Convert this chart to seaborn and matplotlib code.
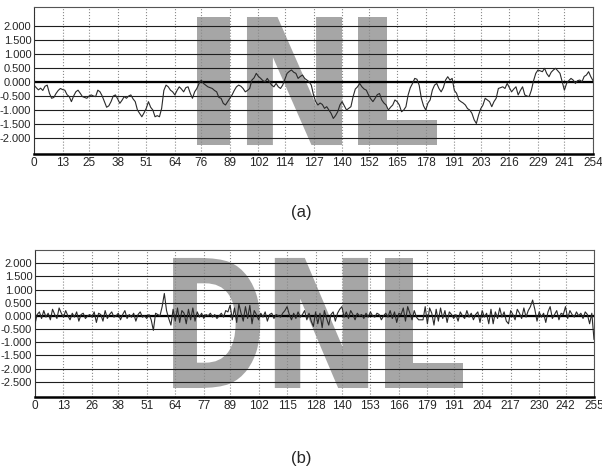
import numpy as np
import pandas as pd
import seaborn as sns
import matplotlib.pyplot as plt
from matplotlib.textpath import TextPath
from matplotlib.patches import PathPatch
from matplotlib.font_manager import FontProperties
from matplotlib.transforms import Affine2D

# INL, codes 0..254
inl = [
    -0.11, -0.20, -0.28, -0.22, -0.30, -0.15, -0.11, -0.40, -0.58, -0.55,
    -0.41, -0.30, -0.23, -0.27, -0.29, -0.45, -0.52, -0.70, -0.50, -0.35,
    -0.29, -0.40, -0.52, -0.55, -0.58, -0.50, -0.46, -0.50, -0.52, -0.29,
    -0.35, -0.50, -0.70, -0.90, -0.85, -0.70, -0.50, -0.46, -0.60, -0.76,
    -0.65, -0.52, -0.58, -0.50, -0.46, -0.60, -0.70, -1.00, -1.12, -1.24,
    -1.10, -0.94, -0.70, -0.90, -1.00, -1.24, -1.20, -1.24, -0.94, -0.30,
    -0.11, -0.17, -0.29, -0.35, -0.46, -0.30, -0.17, -0.25, -0.35, -0.20,
    -0.17, -0.40, -0.58, -0.35, -0.23, -0.05, 0.07, -0.05, -0.11, -0.17,
    -0.20, -0.23, -0.30, -0.35, -0.55, -0.58, -0.76, -0.82, -0.70, -0.58,
    -0.46, -0.30, -0.17, -0.11, -0.15, -0.23, -0.35, -0.30, -0.23, 0.07,
    0.15, 0.31, 0.20, 0.13, 0.05, 0.01, 0.13, 0.01, -0.11, -0.17,
    -0.05, -0.17, -0.23, -0.11, 0.10, 0.31, 0.38, 0.43, 0.35, 0.31,
    0.13, 0.20, 0.25, 0.13, 0.07, 0.01, -0.11, -0.46, -0.70, -0.82,
    -0.75, -0.80, -0.94, -0.88, -1.00, -1.12, -1.30, -1.20, -1.06, -0.82,
    -0.70, -0.85, -1.00, -0.94, -0.88, -0.52, -0.25, -0.17, -0.05, -0.17,
    -0.25, -0.29, -0.46, -0.60, -0.70, -0.58, -0.45, -0.41, -0.64, -0.75,
    -0.82, -1.00, -0.90, -0.82, -0.64, -0.70, -0.82, -1.06, -1.00, -0.88,
    -0.46, -0.20, -0.05, 0.13, 0.10, -0.11, -0.58, -0.85, -1.00, -0.75,
    -0.64, -0.29, -0.11, -0.05, -0.23, -0.35, -0.20, 0.07, 0.19, 0.07,
    0.13, -0.30, -0.40, -0.64, -0.70, -0.75, -0.82, -0.95, -1.00, -1.12,
    -1.35, -1.48, -1.18, -0.95, -0.82, -0.58, -0.64, -0.70, -0.88, -0.70,
    -0.58, -0.23, -0.20, -0.17, -0.23, -0.05, -0.20, -0.35, -0.25, -0.17,
    -0.46, -0.30, -0.17, -0.46, -0.50, -0.52, -0.29, 0.05, 0.31, 0.43,
    0.40, 0.37, 0.49, 0.30, 0.19, 0.35, 0.43, 0.49, 0.40, 0.31,
    0.01, -0.29, -0.05, 0.05, 0.13, 0.07, -0.05, 0.05, 0.07, 0.01,
    0.20, 0.25, 0.37, 0.19, 0.05,
]

# DNL, codes 0..255
dnl = [
    -0.30, 0.05, 0.15, -0.10, 0.20, -0.05, 0.10, -0.15, 0.25, 0.05, -0.10, 0.30, 0.10, -0.05, 0.20, 0.00,
    -0.15, 0.10, -0.05, 0.15, -0.20, 0.05, 0.10, -0.10, 0.00, 0.05, -0.05, 0.15, -0.25, 0.10, 0.05, -0.20,
    0.20, -0.10, 0.05, 0.15, -0.05, 0.00, 0.10, -0.15, 0.05, 0.20, -0.10, 0.05, -0.05, 0.10, -0.20, 0.05,
    0.15, -0.05, 0.00, -0.10, 0.05, -0.15, -0.55, 0.10, 0.05, 0.00, 0.35, 0.85, 0.20, -0.10, -0.35, 0.25,
    -0.20, 0.30, -0.25, 0.20, 0.10, -0.30, 0.25, -0.15, 0.30, -0.20, 0.15, -0.05, 0.10, -0.10, 0.05, 0.00,
    0.10, -0.05, 0.05, -0.10, 0.00, 0.10, -0.05, 0.20, 0.15, 0.40, -0.15, 0.30, -0.25, 0.45, 0.10, -0.20,
    0.35, -0.10, 0.40, -0.30, 0.20, 0.05, -0.15, 0.10, -0.05, 0.15, -0.20, 0.05, 0.10, -0.10, 0.05, 0.00,
    -0.05, 0.10, 0.20, 0.35, 0.05, -0.15, 0.10, -0.10, 0.15, -0.05, 0.05, 0.20, -0.15, 0.10, -0.20, -0.40,
    0.15, -0.30, 0.10, -0.45, 0.20, -0.10, -0.35, 0.05, 0.15, -0.20, 0.10, 0.25, 0.35, -0.05, 0.15, -0.10,
    0.20, 0.05, -0.15, 0.10, 0.00, 0.05, -0.10, 0.10, -0.05, 0.15, 0.00, -0.05, 0.10, 0.05, -0.15, 0.00,
    0.10, -0.05, 0.20, -0.10, 0.15, -0.25, 0.10, 0.05, 0.30, -0.20, 0.35, 0.10, -0.15, 0.20, -0.05, -0.15,
    -0.15, -0.15, 0.35, -0.30, 0.30, 0.10, -0.35, 0.25, -0.20, 0.30, -0.10, 0.20, -0.25, 0.15, 0.05, -0.10,
    0.05, -0.20, 0.15, 0.00, -0.10, 0.20, -0.05, 0.10, -0.15, 0.05, 0.15, -0.25, 0.20, -0.05, 0.10, -0.30,
    0.25, -0.30, 0.15, -0.10, 0.30, -0.05, 0.15, -0.20, -0.30, 0.20, 0.05, -0.15, 0.25, 0.10, -0.10, 0.30,
    -0.05, 0.20, 0.35, 0.60, 0.25, -0.20, 0.15, -0.05, 0.10, -0.25, 0.15, 0.35, -0.10, 0.05, 0.20, -0.15,
    0.10, 0.05, 0.35, -0.10, 0.20, 0.05, -0.05, 0.15, 0.00, 0.10, -0.10, 0.15, 0.05, -0.30, 0.10, -0.90,
]

inl_xticks = [0, 13, 25, 38, 51, 64, 76, 89, 102, 114, 127, 140, 152, 165, 178, 191, 203, 216, 229, 241, 254]
dnl_xticks = [0, 13, 26, 38, 51, 64, 77, 89, 102, 115, 128, 140, 153, 166, 179, 191, 204, 217, 230, 242, 255]
inl_yticks = [2.0, 1.5, 1.0, 0.5, 0.0, -0.5, -1.0, -1.5, -2.0]
dnl_yticks = [2.0, 1.5, 1.0, 0.5, 0.0, -0.5, -1.0, -1.5, -2.0, -2.5]

sns.set_theme(style='white')
plt.rcParams['font.family'] = ['Liberation Sans Narrow', 'Liberation Sans', 'DejaVu Sans']

fig = plt.figure(figsize=(6.02, 4.68), dpi=100)
ax_a = fig.add_axes([34 / 602, 1 - 154 / 468, 559 / 602, 147 / 468])
ax_b = fig.add_axes([35 / 602, 1 - 397 / 468, 559 / 602, 147 / 468])


def big_letter(ax, ch, x0, x1, y0, y1):
    tp = TextPath((0, 0), ch, size=100,
                  prop=FontProperties(family='DejaVu Sans', weight='bold'))
    ext = tp.get_extents()
    tr = (Affine2D().translate(-ext.x0, -ext.y0)
          .scale((x1 - x0) / ext.width, (y1 - y0) / ext.height)
          .translate(x0, y0))
    ax.add_patch(PathPatch(tr.transform_path(tp), transform=ax.transAxes,
                           facecolor='#a6a6a6', edgecolor='none', zorder=0.2))


def style_panel(ax, data, xticks, yticks, ylim):
    df = pd.DataFrame({'code': np.arange(len(data)), 'value': data})
    sns.lineplot(data=df, x='code', y='value', ax=ax, color='#2a2a2a', lw=0.8, zorder=3)
    ax.set_xlim(0, xticks[-1])
    ax.set_ylim(*ylim)
    ax.set_xticks(xticks)
    ax.set_xticklabels([str(t) for t in xticks], fontsize=8.5)
    ax.set_yticks(yticks)
    ax.set_yticklabels(['%.3f' % t for t in yticks], fontsize=8)
    ax.tick_params(length=0, pad=2)
    ax.set_xlabel('')
    ax.set_ylabel('')
    ax.set_axisbelow(True)
    ax.yaxis.grid(True, color='#1e1e1e', lw=0.8)
    ax.xaxis.grid(True, color='#8a8a8a', lw=0.8, ls=':')
    ax.axhline(0, color='black', lw=1.6, zorder=2)
    for s in ['top', 'right']:
        ax.spines[s].set_color('#555555')
        ax.spines[s].set_linewidth(0.8)
    for s in ['left']:
        ax.spines[s].set_color('#333333')
        ax.spines[s].set_linewidth(0.8)
    ax.spines['bottom'].set_color('black')
    ax.spines['bottom'].set_linewidth(1.8)


style_panel(ax_a, inl, inl_xticks, inl_yticks, (-2.57, 2.68))
style_panel(ax_b, dnl, dnl_xticks, dnl_yticks, (-3.08, 2.5))

# big grey watermark letters
big_letter(ax_a, 'I', 0.292, 0.351, 0.061, 0.932)
big_letter(ax_a, 'N', 0.381, 0.551, 0.061, 0.932)
big_letter(ax_a, 'L', 0.580, 0.721, 0.061, 0.932)
big_letter(ax_b, 'D', 0.247, 0.403, 0.061, 0.946)
big_letter(ax_b, 'N', 0.429, 0.596, 0.061, 0.946)
big_letter(ax_b, 'L', 0.626, 0.766, 0.061, 0.946)

fig.text(301 / 602, 1 - 212 / 468, '(a)', ha='center', va='center', fontsize=12)
fig.text(301 / 602, 1 - 458 / 468, '(b)', ha='center', va='center', fontsize=12)

fig.savefig('out.png', dpi=100)
